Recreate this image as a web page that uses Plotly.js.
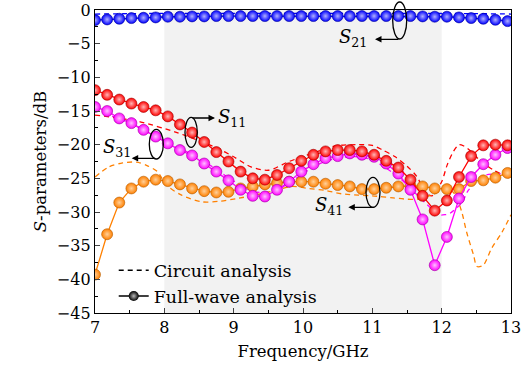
<!DOCTYPE html>
<html><head><meta charset="utf-8">
<script src="https://cdn.plot.ly/plotly-3.0.1.min.js"></script>
<style>html,body{margin:0;padding:0;background:#fff}#chart{width:529px;height:370px}</style>
</head><body><div id="chart"></div>
<script>
// Full-wave analysis (markers) frequency grid, GHz
const freq = [7.000,7.175,7.350,7.525,7.700,7.875,8.050,8.225,8.400,8.575,8.750,8.925,9.100,9.275,9.450,9.625,9.800,9.975,10.150,10.325,10.500,10.675,10.850,11.025,11.200,11.375,11.550,11.725,11.900,12.075,12.250,12.425,12.600,12.775,12.950];
const s21 = [-1.5,-1.4,-1.3,-1.2,-1.15,-1.1,-1.0,-1.0,-0.95,-0.95,-0.9,-0.9,-0.9,-0.9,-0.9,-0.9,-0.9,-0.9,-0.9,-0.9,-0.9,-0.9,-0.9,-0.9,-0.9,-0.9,-0.9,-0.95,-1.0,-1.0,-1.1,-1.2,-1.3,-1.45,-1.65];
const s11 = [-11.9,-12.6,-13.3,-13.9,-14.4,-14.9,-15.8,-17.0,-18.2,-19.6,-21.1,-22.5,-24.0,-25.0,-25.2,-24.5,-23.5,-22.4,-21.5,-21.0,-20.8,-20.8,-21.0,-21.5,-22.4,-23.4,-25.2,-27.6,-29.8,-28.3,-24.8,-21.7,-20.1,-20.0,-20.1];
const s31 = [-14.4,-15.0,-16.1,-16.8,-17.8,-18.8,-19.8,-20.8,-21.6,-22.8,-24.0,-25.3,-26.7,-27.6,-27.7,-26.7,-25.5,-24.0,-22.9,-22.0,-21.7,-21.3,-21.5,-21.8,-22.8,-24.3,-26.7,-31.1,-37.9,-33.7,-28.0,-24.8,-22.9,-21.5,-20.5];
const s41 = [-39.3,-33.3,-28.6,-26.5,-25.5,-25.2,-25.4,-25.9,-26.5,-26.9,-27.1,-27.0,-26.5,-26.2,-25.9,-25.7,-25.5,-25.5,-25.5,-25.8,-26.0,-26.2,-26.6,-26.6,-26.4,-26.2,-26.1,-26.2,-26.5,-26.6,-26.6,-25.4,-25.3,-24.9,-24.2];

// Circuit analysis (dashed)
const fC21 = [7.0,8.0,9.0,10.0,11.0,12.0,13.0];
const c21 = [-0.6,-0.5,-0.5,-0.5,-0.5,-0.5,-0.6];
const fC11 = [7.0,7.3,7.65,8.15,8.45,8.76,9.0,9.25,9.5,9.8,10.13,10.46,10.8,11.0,11.15,11.33,11.5,11.64,11.76,11.86,12.0,12.08,12.17,12.25,12.32,12.4,12.55,12.75,13.0];
const c11 = [-15.6,-16.0,-16.6,-18.1,-19.2,-20.5,-21.8,-23.3,-23.8,-22.5,-21.3,-20.2,-20.0,-20.1,-20.8,-21.8,-23.2,-24.7,-27.0,-27.6,-25.5,-23.0,-21.0,-20.0,-20.2,-20.8,-22.3,-23.8,-25.0];
const fC31 = [7.0,7.5,8.0,8.5,9.0,9.3,9.6,9.9,10.2,10.5,10.8,11.0,11.2,11.4,11.6,11.8,11.95,12.05,12.12,12.3,12.37,12.5,12.64,12.88,13.0];
const c31 = [-14.8,-16.8,-19.4,-22.0,-25.4,-27.0,-26.8,-25.0,-23.0,-22.0,-21.8,-22.3,-23.5,-25.0,-27.0,-29.0,-30.4,-30.4,-30.2,-28.5,-27.0,-25.5,-24.5,-24.3,-24.3];
const fC41 = [7.0,7.2,7.4,7.6,7.75,7.9,8.03,8.25,8.55,8.8,9.05,9.3,9.6,9.84,10.08,10.32,10.56,10.8,11.0,11.3,11.5,11.65,11.85,12.0,12.1,12.2,12.29,12.36,12.46,12.51,12.6,12.72,12.87,13.0];
const c41 = [-24.8,-23.3,-22.7,-22.6,-23.1,-24.0,-26.0,-27.5,-28.5,-28.4,-28.0,-27.5,-26.8,-26.2,-26.5,-26.8,-27.3,-27.5,-27.6,-27.9,-28.1,-28.1,-27.5,-26.8,-26.6,-27.5,-30.0,-33.0,-36.4,-38.1,-37.9,-35.4,-33.0,-30.4];

const band = [8, 12];
const xRange = [7, 13], yRange = [-45, 0];
const xTicks = [7,8,9,10,11,12,13];
const yTicks = [0,-5,-10,-15,-20,-25,-30,-35,-40,-45];

const FONT = "'DejaVu Serif', serif";
const cols = {s21:'#0000ff', s11:'#ff0000', s31:'#ff00ff', s41:'#ff8000'};
const edge = {s21:'#00009a', s11:'#a00000', s31:'#a000a0', s41:'#b35a00'};
const hi = {s21:'#b0b0ff', s11:'#ffb5b5', s31:'#ffc0ff', s41:'#ffd09a'};

function dashed(x, y, c){
  return {x:x, y:y, type:'scatter', mode:'lines', line:{color:c, width:1.3, dash:'5px,4px', shape:'spline', smoothing:0.8}, showlegend:false, hoverinfo:'skip'};
}
function full(x, y, k){
  return {x:x, y:y, type:'scatter', mode:'lines+markers', line:{color:cols[k], width:1.3},
    marker:{size:11, color:cols[k], gradient:{type:'radial', color:hi[k]}, line:{color:edge[k], width:0.6}},
    showlegend:false, hoverinfo:'skip'};
}

const traces = [
  dashed(fC21, c21, cols.s21),
  dashed(fC11, c11, cols.s11),
  dashed(fC31, c31, cols.s31),
  dashed(fC41, c41, cols.s41),
  full(freq, s41, 's41'),
  full(freq, s31, 's31'),
  full(freq, s11, 's11'),
  full(freq, s21, 's21'),
  {x:[null], y:[null], type:'scatter', mode:'lines', name:'Circuit analysis', line:{color:'#000', width:1.3, dash:'5px,4px'}, showlegend:true},
  {x:[null], y:[null], type:'scatter', mode:'lines+markers', name:'Full-wave analysis', line:{color:'#000', width:1.3}, marker:{size:10, color:'#000', gradient:{type:'radial', color:'#bbbbbb'}}, showlegend:true}
];

function ell(x0,x1,y0,y1){ return {type:'circle', xref:'paper', yref:'paper', x0:x0, x1:x1, y0:y0, y1:y1, line:{color:'#000', width:1.3}, fillcolor:'rgba(0,0,0,0)', layer:'above'}; }
function arrow(x,y,ax){ return {xref:'paper', yref:'paper', x:x, y:y, ax:ax, ay:0, text:'', showarrow:true, arrowhead:2, arrowsize:1, arrowwidth:1.3, arrowcolor:'#000'}; }
function lbl(x,y,t){ return {xref:'paper', yref:'paper', x:x, y:y, text:t, showarrow:false, xanchor:'center', yanchor:'middle', font:{family:FONT, size:18, color:'#000'}}; }

const layout = {
  width:529, height:370,
  margin:{l:95, r:18, t:10, b:57},
  paper_bgcolor:'#fff', plot_bgcolor:'#fff',
  font:{family:FONT, size:16, color:'#000'},
  showlegend:true,
  legend:{x:0.045, y:0.2, xanchor:'left', yanchor:'top', bgcolor:'rgba(0,0,0,0)', font:{family:FONT, size:17.5}, itemwidth:30, tracegroupgap:0},
  xaxis:{range:xRange, tickvals:xTicks, ticks:'inside', ticklen:5, tickwidth:1, showline:true, linecolor:'#000', linewidth:1.2, mirror:true, showgrid:false, zeroline:false,
    tickfont:{family:FONT, size:16},
    minor:{dtick:0.5, ticks:'inside', ticklen:3, tickcolor:'#000', showgrid:false},
    title:{text:'Frequency/GHz', font:{family:FONT, size:16.5}, standoff:9}},
  yaxis:{range:yRange, tickvals:yTicks, ticks:'inside', ticklen:5, tickwidth:1, showline:true, linecolor:'#000', linewidth:1.2, mirror:true, showgrid:false, zeroline:false,
    tickfont:{family:FONT, size:16},
    minor:{dtick:2.5, ticks:'inside', ticklen:3, tickcolor:'#000', showgrid:false},
    title:{text:'<i>S</i>-parameters/dB', font:{family:FONT, size:16.5}, standoff:6}},
  shapes:[
    {type:'rect', xref:'x', yref:'paper', x0:band[0], x1:band[1], y0:0, y1:1, fillcolor:'#f2f2f2', line:{width:0}, layer:'below'},
    ell(0.7156,0.7493,0.9043,1.0264),
    ell(0.2163,0.2459,0.5469,0.6459),
    ell(0.1305,0.1642,0.5083,0.6063),
    ell(0.6514,0.6851,0.3488,0.4479)
  ],
  annotations:[
    arrow(0.6731,0.9033,25),
    arrow(0.2885,0.6436,-24),
    arrow(0.0882,0.5106,25),
    arrow(0.6089,0.3488,27),
    lbl(0.620,0.9076,'<i>S</i><sub>21</sub>'),
    lbl(0.329,0.642,'<i>S</i><sub>11</sub>'),
    lbl(0.0517,0.5446,'<i>S</i><sub>31</sub>'),
    lbl(0.5613,0.3515,'<i>S</i><sub>41</sub>')
  ]
};
Plotly.newPlot('chart', traces, layout, {staticPlot:true, displayModeBar:false});
</script></body></html>
